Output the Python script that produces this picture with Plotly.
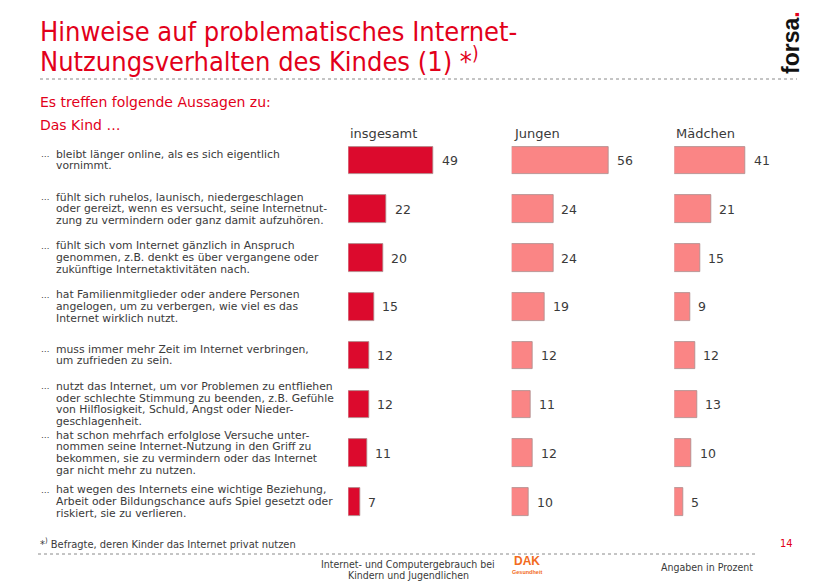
import plotly.graph_objects as go

W, H = 823, 587

statements = [
    ["bleibt länger online, als es sich eigentlich", "vornimmt."],
    ["fühlt sich ruhelos, launisch, niedergeschlagen",
     "oder gereizt, wenn es versucht, seine Internetnut-",
     "zung zu vermindern oder ganz damit aufzuhören."],
    ["fühlt sich vom Internet gänzlich in Anspruch",
     "genommen, z.B. denkt es über vergangene oder",
     "zukünftige Internetaktivitäten nach."],
    ["hat Familienmitglieder oder andere Personen",
     "angelogen, um zu verbergen, wie viel es das",
     "Internet wirklich nutzt."],
    ["muss immer mehr Zeit im Internet verbringen,", "um zufrieden zu sein."],
    ["nutzt das Internet, um vor Problemen zu entfliehen",
     "oder schlechte Stimmung zu beenden, z.B. Gefühle",
     "von Hilflosigkeit, Schuld, Angst oder Nieder-",
     "geschlagenheit."],
    ["hat schon mehrfach erfolglose Versuche unter-",
     "nommen seine Internet-Nutzung in den Griff zu",
     "bekommen, sie zu vermindern oder das Internet",
     "gar nicht mehr zu nutzen."],
    ["hat wegen des Internets eine wichtige Beziehung,",
     "Arbeit oder Bildungschance aufs Spiel gesetzt oder",
     "riskiert, sie zu verlieren."],
]

groups = ["insgesamt", "Jungen", "Mädchen"]
insgesamt = [49, 22, 20, 15, 12, 12, 11, 7]
jungen = [56, 24, 24, 19, 12, 11, 12, 10]
maedchen = [41, 21, 15, 9, 12, 13, 10, 5]
series = [insgesamt, jungen, maedchen]

RED = "#E2001A"
DARK = "#DC0A2D"
PINK = "#FA8585"
TXT = "#3a3a3a"

rows = list(range(len(statements)))

# layout geometry (pixels)
px_per_unit = 1.74
panel_left = [348.3, 511.7, 674.3]
panel_w = 140
row_top_px, row_bot_px = 136.1, 526.4

fig = go.Figure()
colors = [DARK, PINK, PINK]
axes_names = ["x", "x2", "x3"]
for g, vals, col, ax in zip(groups, series, colors, axes_names):
    fig.add_trace(go.Bar(
        x=vals, y=rows, orientation="h", xaxis=ax, yaxis="y",
        marker=dict(color=col, line=dict(color="rgba(170,140,140,0.8)", width=1)),
        width=0.5635, name=g, showlegend=False, cliponaxis=False,
        hoverinfo="x+y",
    ))

layout = dict(
    width=W, height=H,
    margin=dict(l=0, r=0, t=0, b=0),
    paper_bgcolor="white", plot_bgcolor="white",
    bargap=0,
    yaxis=dict(domain=[1 - row_bot_px / H, 1 - row_top_px / H],
               range=[len(rows) - 0.5, -0.5], visible=False, fixedrange=True),
    showlegend=False,
    font=dict(family="DejaVu Sans", color=TXT),
)
for i, ax in enumerate(["xaxis", "xaxis2", "xaxis3"]):
    layout[ax] = dict(domain=[panel_left[i] / W, (panel_left[i] + panel_w) / W],
                      range=[0, panel_w / px_per_unit], visible=False,
                      anchor="y", fixedrange=True)
fig.update_layout(**layout)

ann = []
# value labels
for vals, ax in zip(series, axes_names):
    for r, v in zip(rows, vals):
        ann.append(dict(x=v, y=r, xref=ax, yref="y", text=str(v), showarrow=False,
                        xanchor="left", yanchor="middle", xshift=6,
                        font=dict(size=12.5, color=TXT)))

# statement labels
LS = 11.7
for r, lines in zip(rows, statements):
    n = len(lines)
    for k, line in enumerate(lines):
        off = (k - (n - 1) / 2) * LS
        ann.append(dict(x=54 / W, y=r, xref="paper", yref="y", text=line,
                        showarrow=False, xanchor="left", yanchor="middle",
                        yshift=-off + 0.5, font=dict(size=10.8, color=TXT)))
        if k == 0:
            ann.append(dict(x=39 / W, y=r, xref="paper", yref="y", text="…",
                            showarrow=False, xanchor="left", yanchor="middle",
                            yshift=-off + 0.5, font=dict(size=8.5, color=TXT)))

# column headers
for g, xl in zip(groups, panel_left):
    ann.append(dict(x=xl / W, y=1 - 134 / H, xref="paper", yref="paper", text=g,
                    showarrow=False, xanchor="left", yanchor="middle",
                    font=dict(size=13, color=TXT)))

def ptext(x, y, text, size, color=TXT, anchor="left", family="DejaVu Sans", **kw):
    ann.append(dict(x=x / W, y=1 - y / H, xref="paper", yref="paper", text=text,
                    showarrow=False, xanchor=anchor, yanchor="middle",
                    font=dict(size=size, color=color, family=family), **kw))

COND = "DejaVu Sans Condensed, Roboto Condensed, Roboto, sans-serif"
ptext(38, 31, "Hinweise auf problematisches Internet-", 27, RED, family=COND)
ptext(38, 60, "Nutzungsverhalten des Kindes (1) *<sup>)</sup>", 27, RED, family=COND)
ptext(38, 102, "Es treffen folgende Aussagen zu:", 14, RED)
ptext(38, 125, "Das Kind …", 14, RED)

ptext(791, 43, "<b>forsa</b><span style='color:#E2001A'><b>.</b></span>", 23, "#111111",
      anchor="center", family="Liberation Sans", textangle=-90)

ptext(38, 543, "*<sup>)</sup> Befragte, deren Kinder das Internet privat nutzen", 11,
      TXT, family=COND)
ptext(786, 543, "14", 11, RED, anchor="center", family=COND)
ptext(408, 564, "Internet- und Computergebrauch bei", 10.5, TXT, anchor="center", family=COND)
ptext(408, 575, "Kindern und Jugendlichen", 10.5, TXT, anchor="center", family=COND)
ptext(755, 567, "Angaben in Prozent", 10.5, TXT, anchor="right", family=COND)
ptext(527, 561, "<b>DAK</b>", 12, "#F26B21", anchor="center", family="Liberation Sans")
ptext(527, 572, "<b>Gesundheit</b>", 5.5, "#F26B21", anchor="center", family="Liberation Sans")

fig.update_layout(annotations=ann)

fig.update_layout(shapes=[
    dict(type="line", xref="paper", yref="paper", x0=40 / W, x1=797 / W,
         y0=1 - 79 / H, y1=1 - 79 / H, line=dict(color="#8a8a8a", width=1, dash="dot")),
    dict(type="line", xref="paper", yref="paper", x0=38 / W, x1=755 / W,
         y0=1 - 554 / H, y1=1 - 554 / H, line=dict(color="#8a8a8a", width=1, dash="dot")),
])

fig.write_html("out.html")
